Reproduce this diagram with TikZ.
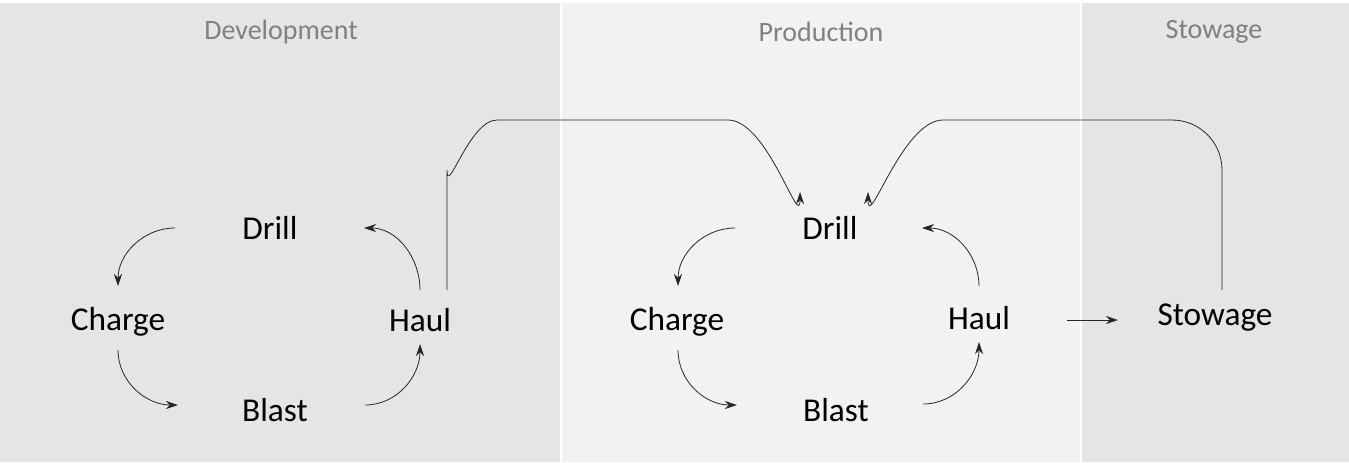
\documentclass[tikz,border=0pt]{standalone}
\usepackage{fontspec}
\setmainfont{Carlito}
\usetikzlibrary{arrows.meta}
\begin{document}
\begin{tikzpicture}[x=0.75pt,y=-0.75pt,
  lbl/.style={font=\fontsize{25}{28}\selectfont,text=black},
  hdr/.style={font=\fontsize{21}{24}\selectfont,text=black!50},
  arr/.style={-{Stealth[length=9pt,width=6pt]},line width=0.6pt,black!85},
  ln/.style={line width=0.6pt,black!85}]
\useasboundingbox (0,0) rectangle (1349,462);
\fill[black!10] (0,3) rectangle (560,462);
\fill[black!5] (562,3) rectangle (1080,462);
\fill[black!10] (1082,3) rectangle (1349,462);
\node[hdr] (h1) at (281,32) {Development};
\node[hdr] (h2) at (821,32) {Production};
\node[hdr] (h3) at (1214,32) {Stowage};
\node[lbl] (d1) at (270,228) {Drill};
\node[lbl] (c1) at (118,322) {Charge};
\node[lbl] (b1) at (275,410) {Blast};
\node[lbl] (u1) at (420,320) {Haul};
\node[lbl] (d2) at (830,228) {Drill};
\node[lbl] (c2) at (677,322) {Charge};
\node[lbl] (b2) at (836,410) {Blast};
\node[lbl] (u2) at (979,318) {Haul};
\node[lbl] (s) at (1215,318) {Stowage};
% development cycle
\coordinate (a1) at (175,228); \coordinate (a2) at (118,286);
\coordinate (a3) at (118,350); \coordinate (a4) at (178,405);
\coordinate (a5) at (365,405); \coordinate (a6) at (420,344);
\coordinate (a7) at (420,290); \coordinate (a8) at (364,228);
\draw[arr] (a1) to[out=180,in=90] (a2);
\draw[arr] (a3) to[out=-90,in=180] (a4);
\draw[arr] (a5) to[out=0,in=-90] (a6);
\draw[arr] (a7) to[out=90,in=0] (a8);
% production cycle
\coordinate (p1) at (735,228); \coordinate (p2) at (678,286);
\coordinate (p3) at (678,350); \coordinate (p4) at (737,405);
\coordinate (p5) at (923,404); \coordinate (p6) at (979,342);
\coordinate (p7) at (979,286); \coordinate (p8) at (922,228);
\draw[arr] (p1) to[out=180,in=90] (p2);
\draw[arr] (p3) to[out=-90,in=180] (p4);
\draw[arr] (p5) to[out=0,in=-90] (p6);
\draw[arr] (p7) to[out=90,in=0] (p8);
% haul -> stowage
\coordinate (q1) at (1067,320); \coordinate (q2) at (1118,320);
\draw[arr] (q1) -- (q2);
% long connectors
\coordinate (l1) at (447,290); \coordinate (l2) at (447,170);
\coordinate (l3) at (497,120); \coordinate (l4) at (728,120);
\coordinate (l5) at (800,192);
\draw[arr] (l1) -- (l2) to[out=-90,in=180] (l3) -- (l4) to[out=0,in=-90] (l5);
\coordinate (m1) at (1222,290); \coordinate (m2) at (1222,170);
\coordinate (m3) at (1172,120); \coordinate (m4) at (943,120);
\coordinate (m5) at (868,192);
\draw[arr] (m1) -- (m2) to[out=90,in=0] (m3) -- (m4) to[out=180,in=-90] (m5);
\end{tikzpicture}
\end{document}
